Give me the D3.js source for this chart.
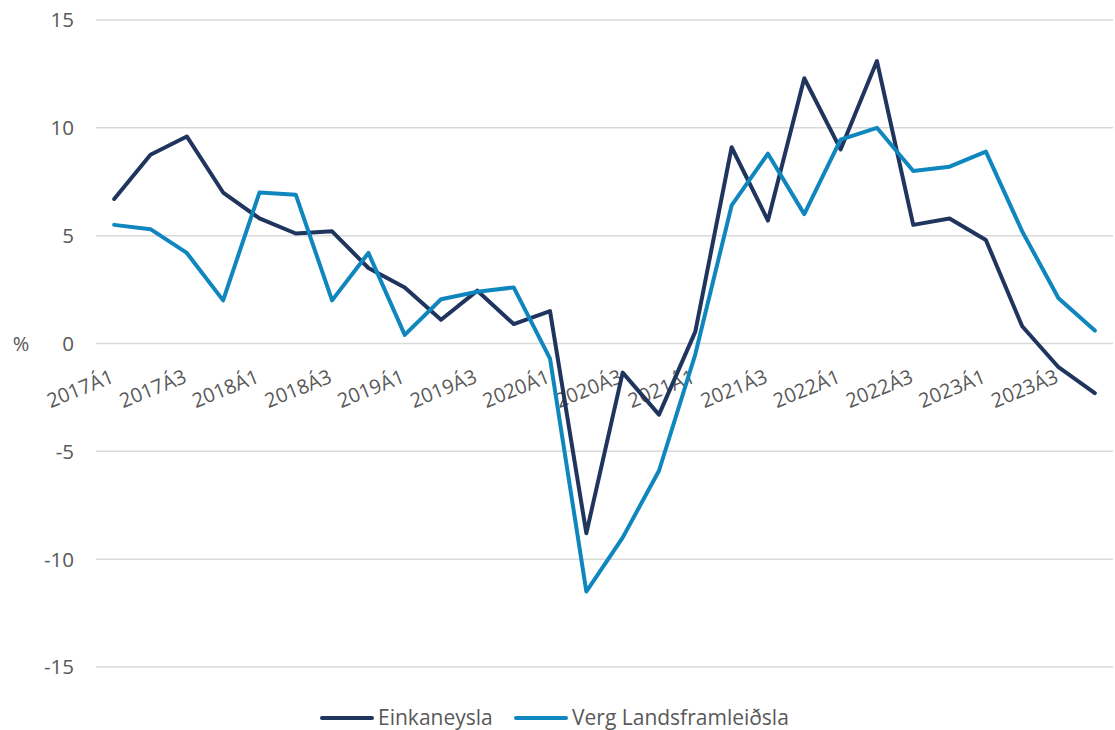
<!DOCTYPE html>
<html><head><meta charset="utf-8">
<script src="https://cdn.jsdelivr.net/npm/d3@7"></script>
<style>body{margin:0;background:#fff;font-family:"Open Sans",sans-serif;}</style>
</head><body><svg id="c" width="1115" height="730"></svg>
<script>
const categories = ["2017Á1","2017Á2","2017Á3","2017Á4","2018Á1","2018Á2","2018Á3","2018Á4",
"2019Á1","2019Á2","2019Á3","2019Á4","2020Á1","2020Á2","2020Á3","2020Á4",
"2021Á1","2021Á2","2021Á3","2021Á4","2022Á1","2022Á2","2022Á3","2022Á4",
"2023Á1","2023Á2","2023Á3","2023Á4"];
const einkaneysla = [6.7,8.75,9.6,7.0,5.8,5.1,5.2,3.5,2.6,1.1,2.45,0.9,1.5,-8.8,-1.35,-3.3,0.55,9.1,5.7,12.3,9.0,13.1,5.5,5.8,4.8,0.8,-1.1,-2.3];
const verg = [5.5,5.3,4.2,2.0,7.0,6.9,2.0,4.2,0.4,2.05,2.4,2.6,-0.7,-11.5,-9.0,-5.9,-0.5,6.4,8.8,6.0,9.45,10.0,8.0,8.2,8.9,5.2,2.1,0.6];
const yTicks = [-15,-10,-5,0,5,10,15];
const seriesNames = ["Einkaneysla","Verg Landsframleiðsla"];
const colors = ["#1f355e","#0f86bd"];

const svg = d3.select("#c");
const x = d3.scaleBand().domain(categories).range([96,1113]);
const y = d3.scaleLinear().domain([-15,15]).range([667,20]);
const xc = d => x(d) + x.bandwidth()/2;
const font = "'Open Sans',sans-serif";
const tc = "#595959";

// gridlines
svg.append("g").selectAll("line").data(yTicks).join("line")
  .attr("x1",96).attr("x2",1113).attr("y1",d=>y(d)).attr("y2",d=>y(d))
  .attr("stroke","#d9d9d9").attr("stroke-width",1.5);

// y labels
svg.append("g").selectAll("text").data(yTicks).join("text")
  .attr("x",74).attr("y",d=>y(d)).attr("dy","0.36em").attr("text-anchor","end")
  .attr("font-size",20.5).attr("fill",tc).attr("font-family",font).text(d=>d);
svg.append("text").attr("x",21).attr("y",y(0)).attr("dy","0.36em").attr("text-anchor","middle")
  .attr("font-size",20).attr("fill",tc).attr("font-family",font).text("%");

// x labels
svg.append("g").selectAll("text").data(categories.filter((d,i)=>i%2===0)).join("text")
  .attr("transform",d=>`translate(${xc(d)+1},382) rotate(-22)`)
  .attr("text-anchor","end")
  .attr("font-size",20).attr("fill",tc).attr("font-family",font).text(d=>d);

const line = d3.line().x((d,i)=>xc(categories[i])).y(d=>y(d));
[einkaneysla, verg].forEach((s,k)=>{
  svg.append("path").datum(s).attr("d",line).attr("fill","none")
    .attr("stroke",colors[k]).attr("stroke-width",4).attr("stroke-linejoin","round").attr("stroke-linecap","round");
});

// legend
const leg = [{x:322,tx:378},{x:516,tx:572}];
seriesNames.forEach((n,k)=>{
  svg.append("line").attr("x1",leg[k].x).attr("x2",leg[k].x+50).attr("y1",718).attr("y2",718)
    .attr("stroke",colors[k]).attr("stroke-width",4).attr("stroke-linecap","round");
  svg.append("text").attr("x",leg[k].tx).attr("y",718).attr("dy","0.35em")
    .attr("font-size",21).attr("fill",tc).attr("font-family",font).text(n);
});
</script></body></html>
